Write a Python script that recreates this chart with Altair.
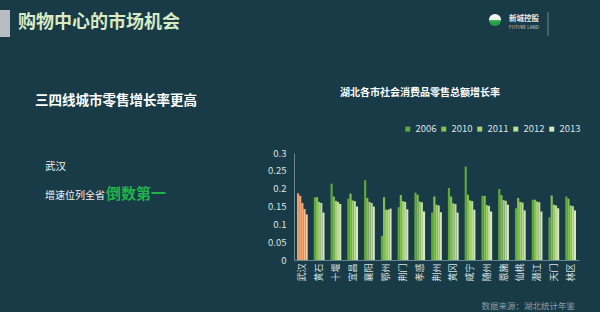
import altair as alt
import pandas as pd

FONT = "Noto Sans CJK SC"

cities = ["武汉", "黄石", "十堰", "宜昌", "襄阳", "鄂州", "荆门", "孝感", "荆州",
          "黄冈", "咸宁", "随州", "恩施", "仙桃", "潜江", "天门", "林区"]
years = ["2006", "2010", "2011", "2012", "2013"]

v2006 = [0.187, 0.176, 0.214, 0.172, 0.224, 0.068, 0.148, 0.189, 0.133,
         0.202, 0.262, 0.180, 0.199, 0.145, 0.169, 0.120, 0.178]
v2010 = [0.180, 0.176, 0.178, 0.186, 0.174, 0.176, 0.182, 0.183, 0.178,
         0.178, 0.183, 0.180, 0.182, 0.174, 0.169, 0.181, 0.172]
v2011 = [0.160, 0.163, 0.166, 0.167, 0.163, 0.141, 0.165, 0.164, 0.155,
         0.159, 0.167, 0.154, 0.168, 0.163, 0.164, 0.155, 0.153]
v2012 = [0.143, 0.160, 0.163, 0.165, 0.160, 0.141, 0.163, 0.162, 0.153,
         0.157, 0.165, 0.152, 0.166, 0.161, 0.162, 0.153, 0.151]
v2013 = [0.128, 0.133, 0.157, 0.150, 0.150, 0.144, 0.142, 0.136, 0.134,
         0.133, 0.141, 0.136, 0.155, 0.139, 0.136, 0.145, 0.139]

y_ticks = [0, 0.05, 0.1, 0.15, 0.2, 0.25, 0.3]

greens = ["#5fa83b", "#84bf52", "#a2cf74", "#bddc98", "#d5e9bd"]
oranges = ["#f39d69", "#f4a674", "#f5b080", "#f7ba8d", "#f8c49c"]

page_title = ["购物中心的市场机会"]
sub_title = ["三四线城市零售增长率更高"]
note_city = ["武汉"]
note_text = ["增速位列全省"]
note_emph = ["倒数第一"]
chart_title = ["湖北各市社会消费品零售总额增长率"]
source_text = ["数据来源：湖北统计年鉴"]
logo_cn = ["新城控股"]
logo_en = ["FUTURE LAND"]

series = [v2006, v2010, v2011, v2012, v2013]
rows = []
for i, c in enumerate(cities):
    for yr, arr in zip(years, series):
        rows.append({"city": c, "year": yr, "value": arr[i]})
df = pd.DataFrame(rows)

# plot origin in page pixels
OX, OY = 294, 153

axis_col = "#6a8590"
lab_col = "#dde3e4"

base = alt.Chart(df).encode(
    x=alt.X("city:N", sort=cities,
            scale=alt.Scale(domain=cities, paddingInner=0.36, paddingOuter=0.18),
            axis=alt.Axis(title=None, labelAngle=270, labelFontSize=9, labelColor=lab_col,
                          labelFont=FONT, ticks=False, domainColor=axis_col, labelPadding=3)),
    xOffset=alt.XOffset("year:N", sort=years,
                        scale=alt.Scale(domain=years, paddingInner=0, paddingOuter=0)),
    y=alt.Y("value:Q", scale=alt.Scale(domain=[0, 0.3]),
            axis=alt.Axis(title=None, values=y_ticks, format="~g", grid=False, ticks=False,
                          labelPadding=8, labelFontSize=9.5, labelColor=lab_col, labelFont=FONT,
                          domainColor=axis_col)),
)

green = base.transform_filter(alt.datum.city != "武汉").mark_bar().encode(
    color=alt.Color("year:N", sort=years, scale=alt.Scale(domain=years, range=greens),
                    legend=alt.Legend(orient="none", legendX=109, legendY=-29,
                                      direction="horizontal", title=None, symbolType="square",
                                      symbolSize=25, labelFontSize=9.5, labelColor=lab_col,
                                      labelFont=FONT, columnPadding=2, labelOffset=3,
                                      padding=0, symbolStrokeWidth=0))
)
orange = base.transform_filter(alt.datum.city == "武汉").mark_bar().encode(
    color=alt.Color("year:N", sort=years, scale=alt.Scale(domain=years, range=oranges),
                    legend=None)
)


def txt(labels, px, py, size, color, weight="normal", align="left"):
    return alt.Chart(pd.DataFrame({"t": labels})).mark_text(
        align=align, baseline="middle", fontSize=size, fontWeight=weight,
        color=color, font=FONT
    ).encode(x=alt.value(px - OX), y=alt.value(py - OY), text="t:N")


one = pd.DataFrame({"k": [0]})
side_bar = alt.Chart(one).mark_rect(color="#b7bdc1").encode(
    x=alt.value(0 - OX), x2=alt.value(10 - OX), y=alt.value(10 - OY), y2=alt.value(37 - OY))
sep = alt.Chart(one).mark_rule(color="#6f8790", strokeWidth=1).encode(
    x=alt.value(548 - OX), y=alt.value(12 - OY), y2=alt.value(36 - OY))
logo = alt.Chart(one).mark_circle(
    size=150, opacity=1,
    color=alt.LinearGradient(gradient="linear", x1=0, y1=0, x2=0, y2=1,
                             stops=[alt.GradientStop(color="#ffffff", offset=0),
                                    alt.GradientStop(color="#e8eee8", offset=0.5),
                                    alt.GradientStop(color="#2aa84a", offset=0.55),
                                    alt.GradientStop(color="#1f9a40", offset=1)])
).encode(x=alt.value(495 - OX), y=alt.value(20 - OY))

layers = [
    green, orange, side_bar, sep, logo,
    txt(page_title, 18, 23, 18, "#d9ebc3", "bold"),
    txt(logo_cn, 509, 19, 7.5, "#e6ecee", "bold"),
    txt(logo_en, 509, 28, 4.5, "#d0d8da"),
    txt(sub_title, 35, 100.5, 13.5, "#ffffff", "bold"),
    txt(note_city, 45, 167, 10.5, "#f2f4f4"),
    txt(note_text, 45, 195.5, 10, "#f2f4f4"),
    txt(note_emph, 106, 193.5, 15, "#22b24c", "bold"),
    txt(chart_title, 340, 93, 10, "#ffffff", "bold"),
    txt(source_text, 575, 305.5, 8.5, "#8d9ea5", "normal", "right"),
]

chart = alt.layer(*layers).resolve_scale(color="independent").properties(
    width=285, height=107,
    padding={"left": OX, "top": OY, "right": 600 - OX - 285, "bottom": 312 - OY - 107},
    autosize=alt.AutoSizeParams(type="none"),
    background="#193a47",
).configure_view(stroke=None)

chart.save("out.html", embed_options={"renderer": "svg", "actions": False})
